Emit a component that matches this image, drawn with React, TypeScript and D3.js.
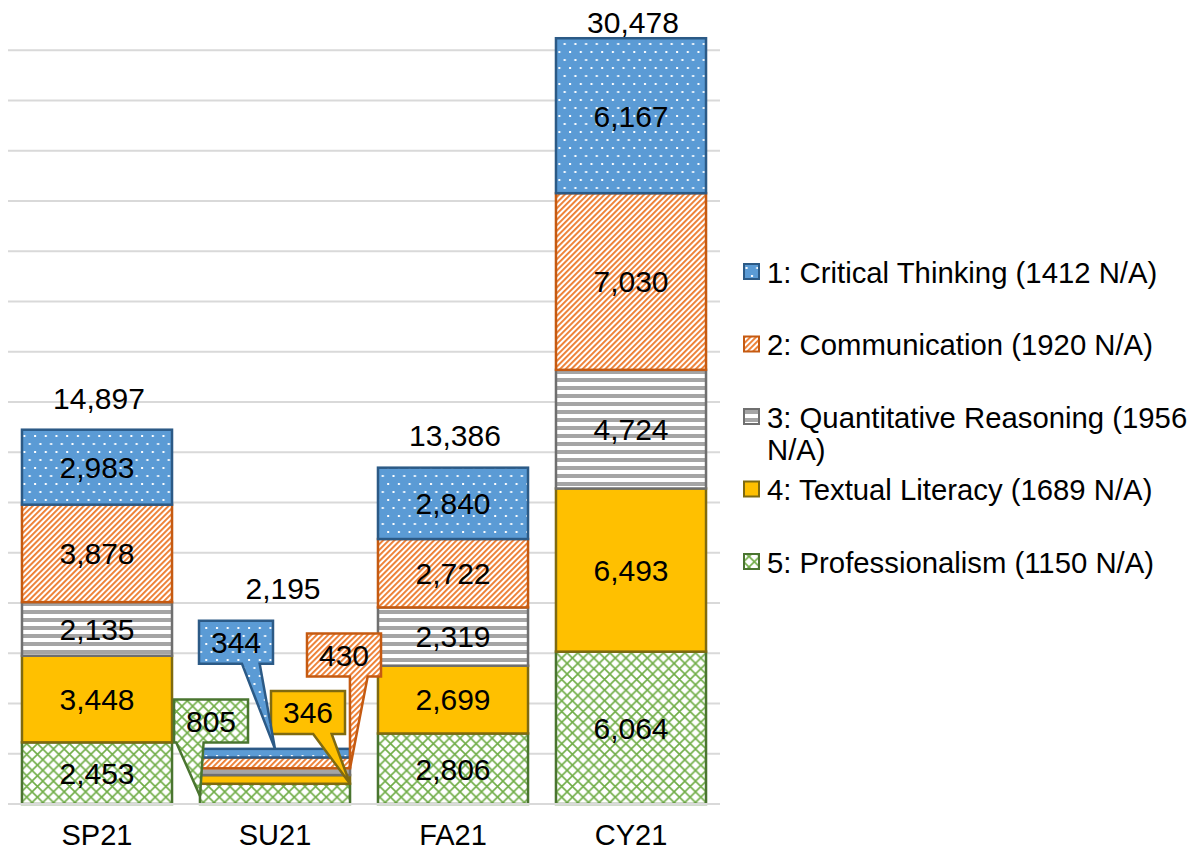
import React, { useEffect, useRef } from 'react';
import * as d3 from 'd3';

const categories = ['SP21', 'SU21', 'FA21', 'CY21'];
const seriesNames = [
  '1: Critical Thinking (1412 N/A)',
  '2: Communication (1920 N/A)',
  '3: Quantitative Reasoning (1956 N/A)',
  '4: Textual Literacy (1689 N/A)',
  '5: Professionalism (1150 N/A)',
];
// values per category, bottom (professionalism) is stacked first
const criticalThinking = [2983, 344, 2840, 6167];
const communication = [3878, 430, 2722, 7030];
const quantitative = [2135, 270, 2319, 4724];
const textualLiteracy = [3448, 346, 2699, 6493];
const professionalism = [2453, 805, 2806, 6064];
const yTicks = [2000, 4000, 6000, 8000, 10000, 12000, 14000, 16000, 18000, 20000, 22000, 24000, 26000, 28000, 30000];

const FONT = '"Liberation Sans", Arial, sans-serif';

// stack order bottom -> top
const stackKeys = ['prof', 'text', 'quant', 'comm', 'crit'];
const styles: Record<string, { fill: string; stroke: string }> = {
  crit: { fill: 'url(#pDots)', stroke: '#2C5A86' },
  comm: { fill: 'url(#pDiag)', stroke: '#C55A11' },
  quant: { fill: 'url(#pHoriz)', stroke: '#6F6F6F' },
  text: { fill: '#FFC000', stroke: '#7F6A10' },
  prof: { fill: 'url(#pLattice)', stroke: '#4A7530' },
};
const legendKeys = ['crit', 'comm', 'quant', 'text', 'prof'];

// callouts used on the small SU21 column (box offset from segment, tip anchor on segment)
const callouts: Record<string, { dx: number; dy: number; ax: number; ay: number; b0: number; b1: number }> = {
  crit: { dx: -39, dy: -111, ax: 0.5, ay: 0, b0: 0.58, b1: 0.82 },
  comm: { dx: 69, dy: -108, ax: 1, ay: 1, b0: 0.58, b1: 0.82 },
  text: { dx: 33, dy: -67, ax: 1, ay: 1, b0: 0.57, b1: 0.82 },
  prof: { dx: -64, dy: -73, ax: 0, ay: 0.6, b0: 0.03, b1: 0.4 },
};

export default function App() {
  const svgRef = useRef<SVGSVGElement>(null);

  useEffect(() => {
    if (!svgRef.current) return;
    const svg = d3.select(svgRef.current);
    svg.selectAll('*').remove();

    const width = 1194;
    const height = 854;
    svg.attr('width', width).attr('height', height);

    const defs = svg.append('defs');

    const dots = defs.append('pattern').attr('id', 'pDots')
      .attr('patternUnits', 'userSpaceOnUse').attr('width', 10.7).attr('height', 16);
    dots.append('rect').attr('width', 10.7).attr('height', 16).attr('fill', '#5B9BD5');
    dots.append('rect').attr('x', 2).attr('y', 3).attr('width', 2).attr('height', 2).attr('fill', '#fff');
    dots.append('rect').attr('x', 7.3).attr('y', 11).attr('width', 2).attr('height', 2).attr('fill', '#fff');

    const diag = defs.append('pattern').attr('id', 'pDiag')
      .attr('patternUnits', 'userSpaceOnUse').attr('width', 4).attr('height', 4)
      .attr('patternTransform', 'rotate(45)');
    diag.append('rect').attr('width', 4).attr('height', 4).attr('fill', '#fff');
    diag.append('rect').attr('width', 1.9).attr('height', 4).attr('fill', '#ED7D31');

    const horiz = defs.append('pattern').attr('id', 'pHoriz')
      .attr('patternUnits', 'userSpaceOnUse').attr('width', 8).attr('height', 8);
    horiz.append('rect').attr('width', 8).attr('height', 8).attr('fill', '#fff');
    horiz.append('rect').attr('y', 2).attr('width', 8).attr('height', 4).attr('fill', '#A5A5A5');

    const lattice = defs.append('pattern').attr('id', 'pLattice')
      .attr('patternUnits', 'userSpaceOnUse').attr('width', 10.7).attr('height', 10.7);
    lattice.append('rect').attr('width', 10.7).attr('height', 10.7).attr('fill', '#fff');
    lattice.append('path').attr('d', 'M0,0L10.7,10.7M10.7,0L0,10.7')
      .attr('stroke', '#70AD47').attr('stroke-width', 1.6).attr('fill', 'none');

    const x = d3.scaleBand<string>().domain(categories).range([8, 720])
      .paddingInner(0.157).paddingOuter(0.0785);
    const y = d3.scaleLinear().domain([0, 32000]).range([804, 0]);

    // gridlines
    svg.append('g').selectAll('line').data(yTicks).enter().append('line')
      .attr('x1', 8).attr('x2', 720)
      .attr('y1', (d) => y(d)).attr('y2', (d) => y(d))
      .attr('stroke', '#D9D9D9').attr('stroke-width', 2);

    const table = categories.map((c, i) => ({
      cat: c,
      crit: criticalThinking[i],
      comm: communication[i],
      quant: quantitative[i],
      text: textualLiteracy[i],
      prof: professionalism[i],
    }));

    const stacked = d3.stack<any>().keys(stackKeys)(table);

    const bars = svg.append('g');
    stacked.forEach((layer) => {
      const st = styles[layer.key];
      bars.append('g').selectAll('rect').data(layer).enter().append('rect')
        .attr('x', (d: any) => x(d.data.cat)!)
        .attr('width', x.bandwidth())
        .attr('y', (d: any) => y(d[1]))
        .attr('height', (d: any) => y(d[0]) - y(d[1]))
        .attr('fill', st.fill)
        .attr('stroke', st.stroke)
        .attr('stroke-width', 2.5);
    });

    // baseline
    svg.append('line').attr('x1', 8).attr('x2', 720).attr('y1', y(0)).attr('y2', y(0))
      .attr('stroke', '#D9D9D9').attr('stroke-width', 2);

    const fmt = d3.format(',');
    const labels = svg.append('g').attr('font-family', FONT).attr('font-size', 30).attr('fill', '#000');
    const smallCat = 'SU21';
    const calloutTops: Record<string, number> = {};

    stacked.forEach((layer) => {
      layer.forEach((d: any) => {
        const cat = d.data.cat;
        const v = d[1] - d[0];
        const x0 = x(cat)!;
        const bw = x.bandwidth();
        const yTop = y(d[1]);
        const yBot = y(d[0]);
        if (cat !== smallCat) {
          labels.append('text')
            .attr('x', x0 + bw / 2).attr('y', (yTop + yBot) / 2)
            .attr('dy', '0.36em').attr('text-anchor', 'middle')
            .text(fmt(v));
          return;
        }
        const co = callouts[layer.key];
        if (!co) return;
        const st = styles[layer.key];
        const bwBox = 74;
        const bhBox = 43;
        const cx = x0 + bw / 2 + co.dx;
        const cy = (yTop + yBot) / 2 + co.dy;
        const l = cx - bwBox / 2;
        const r = cx + bwBox / 2;
        const t = cy - bhBox / 2;
        const b = cy + bhBox / 2;
        const tipX = x0 + bw * co.ax;
        const tipY = yTop + (yBot - yTop) * co.ay;
        const p0 = l + bwBox * co.b0;
        const p1 = l + bwBox * co.b1;
        const path = d3.path();
        path.moveTo(l, t);
        path.lineTo(r, t);
        path.lineTo(r, b);
        path.lineTo(p1, b);
        path.lineTo(tipX, tipY);
        path.lineTo(p0, b);
        path.lineTo(l, b);
        path.closePath();
        labels.append('path').attr('d', path.toString())
          .attr('fill', st.fill).attr('stroke', st.stroke).attr('stroke-width', 2.5)
          .attr('stroke-linejoin', 'miter');
        labels.append('text')
          .attr('x', cx).attr('y', cy)
          .attr('dy', '0.36em').attr('text-anchor', 'middle')
          .text(fmt(v));
        calloutTops[cat] = Math.min(calloutTops[cat] ?? Infinity, t);
      });
    });

    // totals
    table.forEach((row) => {
      const total = stackKeys.reduce((s, k) => s + (row as any)[k], 0);
      const top = Math.min(y(total), calloutTops[row.cat] ?? Infinity);
      const ly = Math.max(top - 32, 22);
      labels.append('text')
        .attr('x', x(row.cat)! + x.bandwidth() / 2 + (calloutTops[row.cat] ? 8 : 2))
        .attr('y', ly).attr('dy', '0.36em').attr('text-anchor', 'middle')
        .text(fmt(total));
    });

    // category axis labels
    svg.append('g').attr('font-family', FONT).attr('font-size', 29).attr('fill', '#000')
      .selectAll('text').data(categories).enter().append('text')
      .attr('x', (d) => x(d)! + x.bandwidth() / 2)
      .attr('y', 835).attr('dy', '0.36em').attr('text-anchor', 'middle')
      .text((d) => d);

    // legend
    const legend = svg.append('g').attr('font-family', FONT).attr('font-size', 29.3).attr('fill', '#000');
    legendKeys.forEach((k, i) => {
      const cy = 272 + i * 72.5;
      const st = styles[k];
      legend.append('rect').attr('x', 744).attr('y', cy - 8).attr('width', 15).attr('height', 15)
        .attr('fill', st.fill).attr('stroke', st.stroke).attr('stroke-width', 2);
      const name = seriesNames[i];
      const txt = legend.append('text').attr('x', 767).attr('y', cy).attr('dy', '0.36em');
      if (name.length > 32) {
        const cut = name.lastIndexOf(' ');
        txt.append('tspan').attr('x', 767).text(name.slice(0, cut));
        txt.append('tspan').attr('x', 767).attr('dy', 32).text(name.slice(cut + 1));
      } else {
        txt.text(name);
      }
    });
  }, []);

  return (
    <svg ref={svgRef} style={{ position: 'absolute', left: 0, top: 0, background: '#fff' }} />
  );
}
